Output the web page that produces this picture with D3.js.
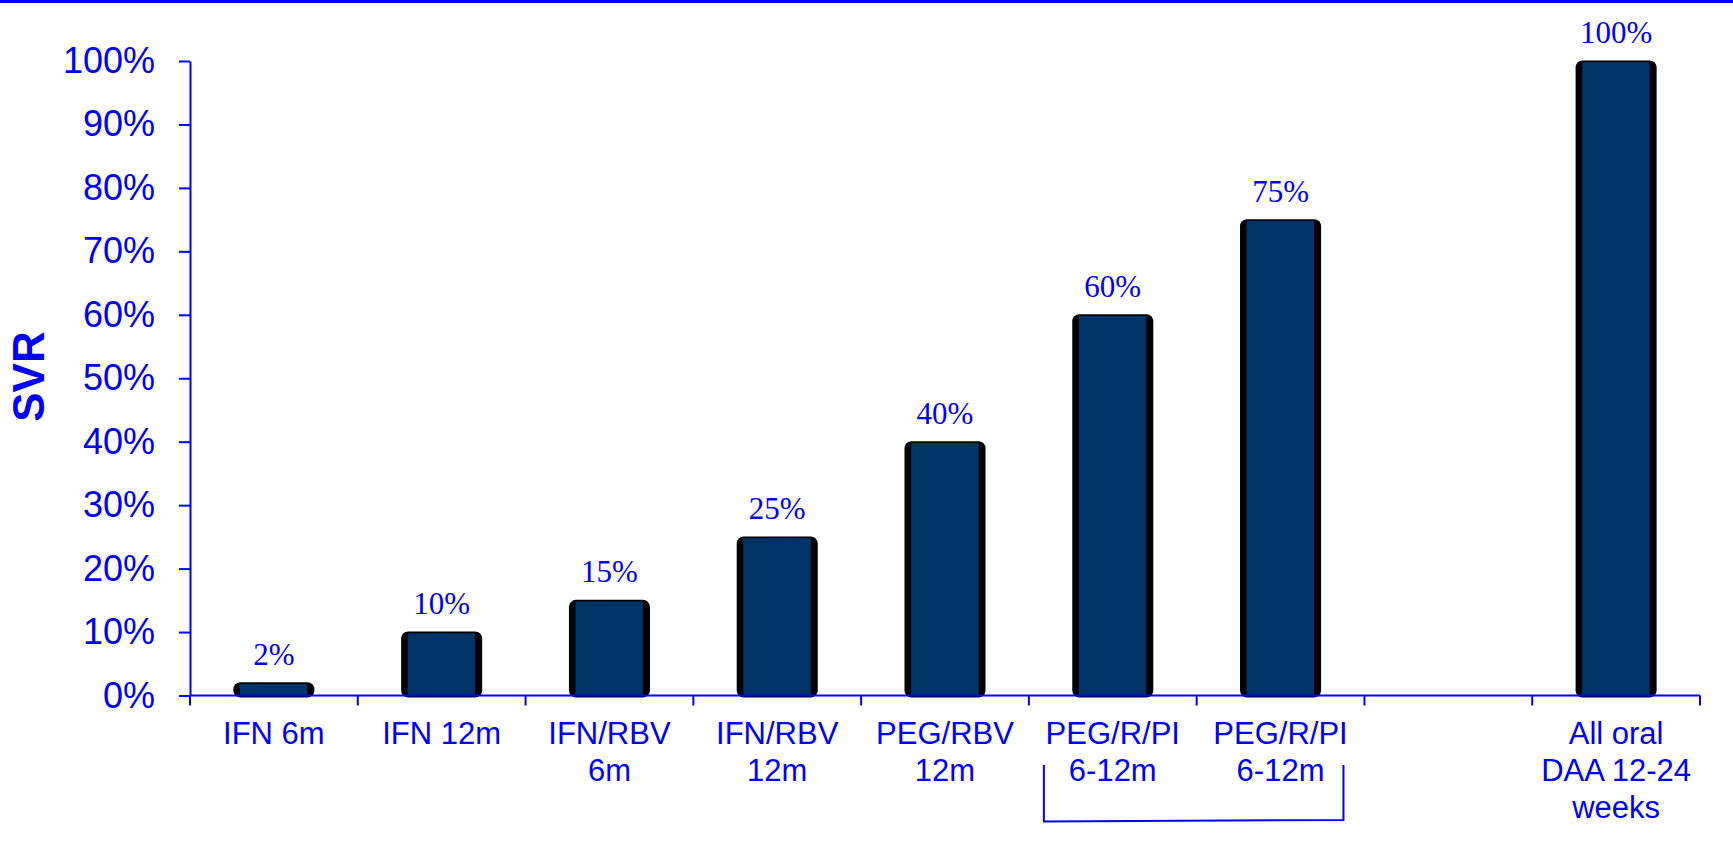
<!DOCTYPE html>
<html>
<head>
<meta charset="utf-8">
<script src="https://cdn.jsdelivr.net/npm/d3@7"></script>
<style>
  html, body { margin: 0; padding: 0; background: #fff; }
  svg { display: block; }
</style>
</head>
<body>
<svg id="chart" width="1733" height="846"></svg>
<script>
// Sustained virological response by treatment era
const categories = [
  ["IFN 6m"],
  ["IFN 12m"],
  ["IFN/RBV", "6m"],
  ["IFN/RBV", "12m"],
  ["PEG/RBV", "12m"],
  ["PEG/R/PI", "6-12m"],
  ["PEG/R/PI", "6-12m"],
  [],
  ["All oral", "DAA 12-24", "weeks"]
];
const svrValues = [0.02, 0.10, 0.15, 0.25, 0.40, 0.60, 0.75, null, 1.00];
const yTicks = [0, 0.1, 0.2, 0.3, 0.4, 0.5, 0.6, 0.7, 0.8, 0.9, 1.0];
const axisTitle = "SVR";
const bracketGroup = [5, 6];

const BLUE = "#0000ff";
const NAVY = "#003366";
const SANS = "'Liberation Sans', Arial, sans-serif";
const SERIF = "'Liberation Serif', 'Times New Roman', serif";

const svg = d3.select("#chart");
const W = 1733;

const plotLeft = 190, plotRight = 1700, plotBase = 695.5, plotTop = 61;

const x = d3.scaleBand()
  .domain(categories.map((d, i) => i))
  .range([plotLeft, plotRight]);
const y = d3.scaleLinear().domain([0, 1]).range([plotBase, plotTop]);

// slide header rule
svg.append("rect").attr("x", 0).attr("y", 0).attr("width", W).attr("height", 3).attr("fill", BLUE);

// bars: dark edge shape behind a navy face
const barW = x.bandwidth() * 0.483;
const data = svrValues.map((v, i) => ({ i, v })).filter(d => d.v !== null);

const bars = svg.append("g");
bars.selectAll("rect.edge").data(data).join("rect")
  .attr("class", "edge")
  .attr("x", d => x(d.i) + x.bandwidth() / 2 - barW / 2)
  .attr("y", d => y(d.v) - 0.5)
  .attr("width", barW)
  .attr("height", d => plotBase - y(d.v) + 2.5)
  .attr("rx", 7).attr("ry", 7)
  .attr("fill", "#000");
bars.selectAll("rect.face").data(data).join("rect")
  .attr("class", "face")
  .attr("x", d => x(d.i) + x.bandwidth() / 2 - barW / 2 + 6.5)
  .attr("y", d => y(d.v) + 1.2)
  .attr("width", barW - 13.5)
  .attr("height", d => plotBase - y(d.v) - 1.2)
  .attr("fill", NAVY);

// value labels
svg.append("g").selectAll("text").data(data).join("text")
  .attr("x", d => x(d.i) + x.bandwidth() / 2)
  .attr("y", d => y(d.v) - 18)
  .attr("text-anchor", "middle")
  .attr("font-family", SERIF)
  .attr("font-size", 31)
  .attr("fill", BLUE)
  .text(d => d3.format(".0%")(d.v));

// y axis
const yAxis = svg.append("g")
  .attr("transform", `translate(${plotLeft},0)`)
  .call(d3.axisLeft(y).tickValues(yTicks).tickFormat(d3.format(".0%"))
    .tickSize(11).tickSizeOuter(0).tickPadding(24));
yAxis.select(".domain").attr("stroke", BLUE).attr("stroke-width", 2);
yAxis.selectAll(".tick line").attr("stroke", BLUE).attr("stroke-width", 2);
yAxis.selectAll(".tick text")
  .attr("fill", BLUE)
  .attr("font-family", SANS)
  .attr("font-size", 36);

// x axis line and boundary ticks
const xg = svg.append("g");
xg.append("line")
  .attr("x1", plotLeft).attr("x2", plotRight)
  .attr("y1", plotBase).attr("y2", plotBase)
  .attr("stroke", BLUE).attr("stroke-width", 2);
const bounds = categories.map((d, i) => x(i)).concat([plotRight]);
xg.selectAll("line.tk").data(bounds).join("line")
  .attr("class", "tk")
  .attr("x1", d => d).attr("x2", d => d)
  .attr("y1", plotBase).attr("y2", plotBase + 10)
  .attr("stroke", BLUE).attr("stroke-width", 2);

// category labels
const lab = xg.selectAll("text.cat").data(categories).join("text")
  .attr("class", "cat")
  .attr("text-anchor", "middle")
  .attr("font-family", SANS)
  .attr("font-size", 31)
  .attr("fill", BLUE);
lab.each(function (lines, i) {
  const t = d3.select(this);
  lines.forEach((ln, k) => {
    t.append("tspan")
      .attr("x", x(i) + x.bandwidth() / 2)
      .attr("y", plotBase + 48.5 + k * 36.8)
      .text(ln);
  });
});

// bracket grouping the two PEG/R/PI columns
const bx0 = x(bracketGroup[0]) + 15;
const bx1 = x(bracketGroup[1]) + x.bandwidth() - 21;
svg.append("path")
  .attr("d", `M${bx0},765 L${bx0},821.5 L${bx1},820 L${bx1},765`)
  .attr("fill", "none")
  .attr("stroke", BLUE)
  .attr("stroke-width", 2);

// axis title
svg.append("text")
  .attr("transform", "translate(44,376.5) rotate(-90)")
  .attr("text-anchor", "middle")
  .attr("font-family", SANS)
  .attr("font-weight", "bold")
  .attr("font-size", 44)
  .attr("fill", BLUE)
  .text(axisTitle);
</script>
</body>
</html>
